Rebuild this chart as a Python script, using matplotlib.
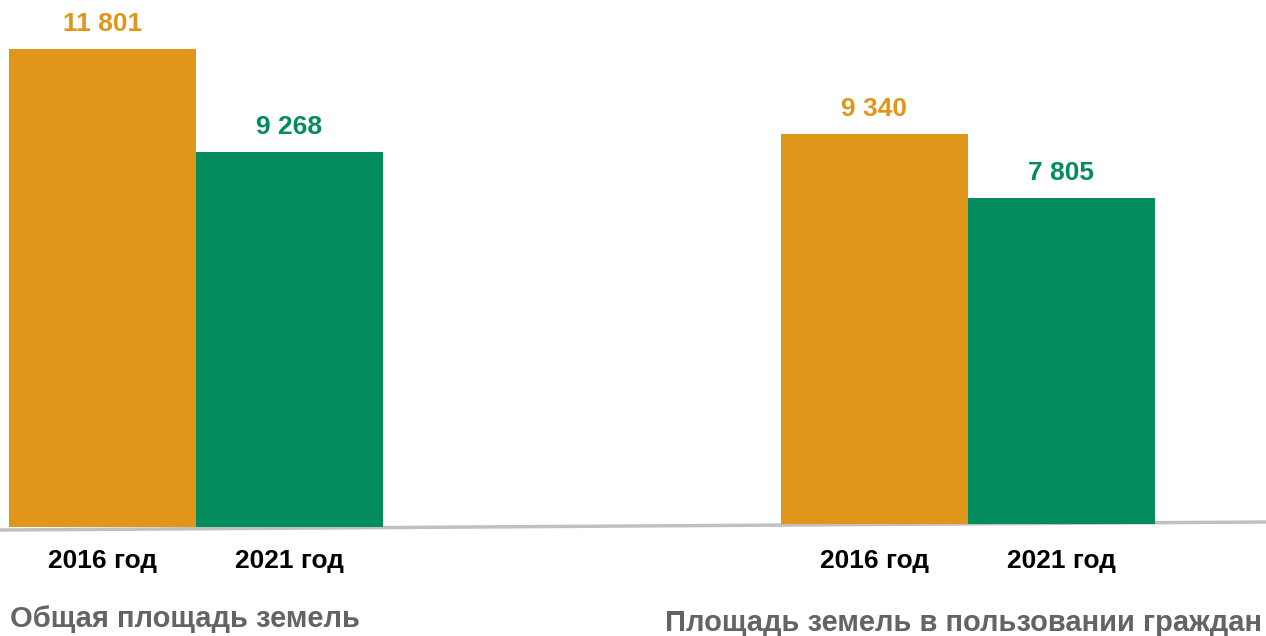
import matplotlib.pyplot as plt
from matplotlib.lines import Line2D

years = ["2016 год", "2021 год"]
groups = ["Общая площадь земель", "Площадь земель в пользовании граждан"]
total_area = [11801, 9268]
citizens_area = [9340, 7805]
value_labels = [["11 801", "9 268"], ["9 340", "7 805"]]

ORANGE = "#E0961A"
GREEN = "#048C5C"
W, H = 1266, 636

plt.rcParams["font.family"] = ["Liberation Sans", "DejaVu Sans"]
fig = plt.figure(figsize=(W / 100, H / 100), dpi=100)


def px_axes(left, bottom, width, height):
    return fig.add_axes([left / W, 1 - bottom / H, width / W, height / H])


# two separate small charts, slightly different scales like the original
specs = [
    (9, 527, 0.0405, 12000, total_area, value_labels[0], groups[0]),
    (781, 524, 0.0418, 10000, citizens_area, value_labels[1], groups[1]),
]

for left, base, scale, ymax, vals, labs, title in specs:
    ax = px_axes(left, base, 374, ymax * scale)
    ax.bar([0, 1], vals, width=1, align="edge", color=[ORANGE, GREEN])
    ax.set_xlim(0, 2)
    ax.set_ylim(0, ymax)
    ax.axis("off")
    for i, (v, t) in enumerate(zip(vals, labs)):
        ax.annotate(t, (i + 0.5, v), xytext=(0, 25), textcoords="offset pixels",
                    ha="center", va="center", fontsize=19, fontweight="bold",
                    color=[ORANGE, GREEN][i])
        cx = (left + 187 * i + 93.5) / W
        fig.text(cx, 1 - 561 / H, years[i], ha="center", va="center",
                 fontsize=19, fontweight="bold", color="black")

fig.text(10 / W, 1 - 619 / H, groups[0], ha="left", va="center",
         fontsize=21, fontweight="bold", color="#646464")
fig.text(1262 / W, 1 - 623 / H, groups[1], ha="right", va="center",
         fontsize=21, fontweight="bold", color="#646464")

# tilted grey baseline
fig.add_artist(Line2D([0, 1], [1 - 530 / H, 1 - 522 / H], transform=fig.transFigure,
                      color="#C0C0C0", linewidth=2.5, zorder=0))

fig.savefig("out.png", dpi=100)
